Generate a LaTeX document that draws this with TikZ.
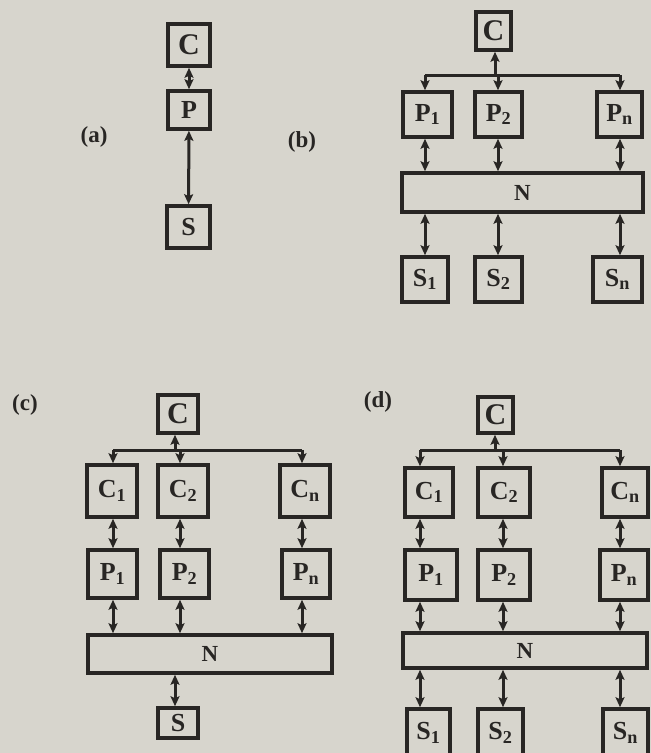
\documentclass[tikz,border=0pt]{standalone}
\usepackage{fontspec}
\setmainfont{Liberation Serif}
\usetikzlibrary{arrows.meta}
\definecolor{paper}{RGB}{215,213,205}
\definecolor{ink}{RGB}{40,38,36}
\tikzset{
  bx/.style={draw=ink, line width=3.6pt, fill=paper, inner sep=0pt, font=\bfseries\fontsize{26}{26}\selectfont, text=ink},
  tip/.tip={Stealth[length=10pt,width=9pt,inset=2pt]},
  conn/.style={draw=ink, line width=3pt, {tip}-{tip}},
  down/.style={draw=ink, line width=3pt, -{tip}},
  upc/.style={draw=ink, line width=3pt, {tip}-},
  bus/.style={draw=ink, line width=3pt},
  lbl/.style={font=\bfseries\fontsize{23}{23}\selectfont, text=ink, inner sep=0pt}
}
\newcommand{\sub}[2]{#1\textsubscript{#2}}
\begin{document}
\begin{tikzpicture}[x=1pt,y=-1pt]
\fill[paper] (0,0) rectangle (651,753);
\useasboundingbox (0,0) rectangle (651,753);

% ---------- (a)
\node[lbl] (la) at (94,137) {(a)};
\node[bx, minimum width=42pt, minimum height=42pt, font=\bfseries\fontsize{30}{30}\selectfont] (aC) at (189,45) {C};
\node[bx, minimum width=42pt, minimum height=38pt] (aP) at (189,110) {P};
\node[bx, minimum width=43pt, minimum height=42pt] (aS) at (188.5,227) {S};
\draw[conn] (aC) -- (aP);
\draw[conn] (aP) -- (aS);

% ---------- (b)
\node[lbl] (lb) at (302,142) {(b)};
\node[bx, minimum width=35pt, minimum height=38pt, font=\bfseries\fontsize{30}{30}\selectfont] (bC) at (493.5,31) {C};
\node[bx, minimum width=49pt, minimum height=45pt] (bP1) at (427.5,114.5) {\sub{P}{1}};
\node[bx, minimum width=47pt, minimum height=45pt] (bP2) at (498.5,114.5) {\sub{P}{2}};
\node[bx, minimum width=45pt, minimum height=45pt] (bPn) at (619.5,114.5) {\sub{P}{n}};
\node[bx, minimum width=241pt, minimum height=39pt, font=\bfseries\fontsize{23}{23}\selectfont] (bN) at (522.5,192.5) {N};
\node[bx, minimum width=46pt, minimum height=45pt] (bS1) at (425,279.5) {\sub{S}{1}};
\node[bx, minimum width=47pt, minimum height=45pt] (bS2) at (498.5,279.5) {\sub{S}{2}};
\node[bx, minimum width=49pt, minimum height=45pt] (bSn) at (617.5,279.5) {\sub{S}{n}};
\coordinate (bb1) at (425,75);
\coordinate (bb2) at (498,75);
\coordinate (bbn) at (620,75);
\coordinate (bbc) at (495,75);
\draw[bus] (bb1) -- (bbn);
\draw[upc] (bC.south -| bbc) -- (bbc);
\draw[down] (bb1) -- (bP1.north -| bb1);
\draw[down] (bb2) -- (bP2.north -| bb2);
\draw[down] (bbn) -- (bPn.north -| bbn);
\draw[conn] (bP1.south -| bb1) -- (bN.north -| bb1);
\draw[conn] (bP2.south -| bb2) -- (bN.north -| bb2);
\draw[conn] (bPn.south -| bbn) -- (bN.north -| bbn);
\draw[conn] (bN.south -| bb1) -- (bS1.north -| bb1);
\draw[conn] (bN.south -| bb2) -- (bS2.north -| bb2);
\draw[conn] (bN.south -| bbn) -- (bSn.north -| bbn);

% ---------- (c)
\node[lbl] (lc) at (25,405) {(c)};
\node[bx, minimum width=40pt, minimum height=38pt, font=\bfseries\fontsize{30}{30}\selectfont] (cC) at (178,414) {C};
\node[bx, minimum width=50pt, minimum height=52pt] (cC1) at (112,491) {\sub{C}{1}};
\node[bx, minimum width=50pt, minimum height=52pt] (cC2) at (183,491) {\sub{C}{2}};
\node[bx, minimum width=50pt, minimum height=52pt] (cCn) at (305,491) {\sub{C}{n}};
\node[bx, minimum width=49pt, minimum height=48pt] (cP1) at (112.5,574) {\sub{P}{1}};
\node[bx, minimum width=49pt, minimum height=48pt] (cP2) at (184.5,574) {\sub{P}{2}};
\node[bx, minimum width=48pt, minimum height=48pt] (cPn) at (306,574) {\sub{P}{n}};
\node[bx, minimum width=244pt, minimum height=38pt, font=\bfseries\fontsize{23}{23}\selectfont] (cN) at (210,654) {N};
\node[bx, minimum width=40pt, minimum height=30pt] (cS) at (178,723) {S};
\coordinate (cb1) at (113,450);
\coordinate (cb2) at (180,450);
\coordinate (cbn) at (302,450);
\coordinate (cbc) at (175,450);
\draw[bus] (cb1) -- (cbn);
\draw[upc] (cC.south -| cbc) -- (cbc);
\draw[down] (cb1) -- (cC1.north -| cb1);
\draw[down] (cb2) -- (cC2.north -| cb2);
\draw[down] (cbn) -- (cCn.north -| cbn);
\draw[conn] (cC1.south -| cb1) -- (cP1.north -| cb1);
\draw[conn] (cC2.south -| cb2) -- (cP2.north -| cb2);
\draw[conn] (cCn.south -| cbn) -- (cPn.north -| cbn);
\draw[conn] (cP1.south -| cb1) -- (cN.north -| cb1);
\draw[conn] (cP2.south -| cb2) -- (cN.north -| cb2);
\draw[conn] (cPn.south -| cbn) -- (cN.north -| cbn);
\draw[conn] (cN.south -| cbc) -- (cS.north -| cbc);

% ---------- (d)
\node[lbl] (ld) at (378,402) {(d)};
\node[bx, minimum width=35pt, minimum height=36pt, font=\bfseries\fontsize{30}{30}\selectfont] (dC) at (495.5,415) {C};
\node[bx, minimum width=48pt, minimum height=49pt] (dC1) at (429,492.5) {\sub{C}{1}};
\node[bx, minimum width=52pt, minimum height=49pt] (dC2) at (504,492.5) {\sub{C}{2}};
\node[bx, minimum width=46pt, minimum height=49pt] (dCn) at (625,492.5) {\sub{C}{n}};
\node[bx, minimum width=52pt, minimum height=50pt] (dP1) at (431,575) {\sub{P}{1}};
\node[bx, minimum width=52pt, minimum height=50pt] (dP2) at (504,575) {\sub{P}{2}};
\node[bx, minimum width=48pt, minimum height=50pt] (dPn) at (624,575) {\sub{P}{n}};
\node[bx, minimum width=244pt, minimum height=35pt, font=\bfseries\fontsize{23}{23}\selectfont] (dN) at (525,650.5) {N};
\node[bx, minimum width=43pt, minimum height=48pt] (dS1) at (428.5,733) {\sub{S}{1}};
\node[bx, minimum width=45pt, minimum height=48pt] (dS2) at (500.5,733) {\sub{S}{2}};
\node[bx, minimum width=45pt, minimum height=48pt] (dSn) at (625.5,733) {\sub{S}{n}};
\coordinate (db1) at (420,450);
\coordinate (db2) at (503,450);
\coordinate (dbn) at (620,450);
\coordinate (dbc) at (495,450);
\draw[bus] (db1) -- (dbn);
\draw[upc] (dC.south -| dbc) -- (dbc);
\draw[down] (db1) -- (dC1.north -| db1);
\draw[down] (db2) -- (dC2.north -| db2);
\draw[down] (dbn) -- (dCn.north -| dbn);
\draw[conn] (dC1.south -| db1) -- (dP1.north -| db1);
\draw[conn] (dC2.south -| db2) -- (dP2.north -| db2);
\draw[conn] (dCn.south -| dbn) -- (dPn.north -| dbn);
\draw[conn] (dP1.south -| db1) -- (dN.north -| db1);
\draw[conn] (dP2.south -| db2) -- (dN.north -| db2);
\draw[conn] (dPn.south -| dbn) -- (dN.north -| dbn);
\draw[conn] (dN.south -| db1) -- (dS1.north -| db1);
\draw[conn] (dN.south -| db2) -- (dS2.north -| db2);
\draw[conn] (dN.south -| dbn) -- (dSn.north -| dbn);
\end{tikzpicture}
\end{document}
